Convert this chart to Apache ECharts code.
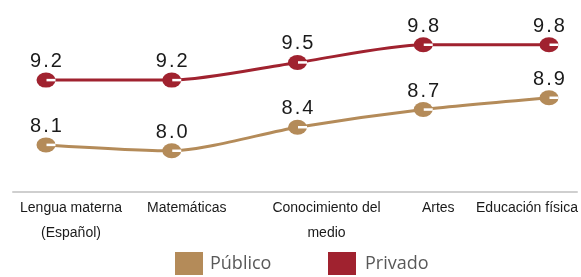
<!DOCTYPE html>
<html><head><meta charset="utf-8">
<script src="https://cdn.jsdelivr.net/npm/echarts@6/dist/echarts.min.js"></script>
<style>html,body{margin:0;padding:0;background:#fff}#c{width:581px;height:277px}</style>
</head><body><div id="c"></div>
<script>
var categories = ['Lengua materna\n(Español)', 'Matemáticas', 'Conocimiento del\nmedio', 'Artes', 'Educación física'];
var publico = [8.1, 8.0, 8.4, 8.7, 8.9];
var privado = [9.2, 9.2, 9.5, 9.8, 9.8];
var seriesNames = ['Público', 'Privado'];
var colors = ['#b48b59', '#a0222f'];
var labelShift = [[0,0,0,50],[0,0,0,30],[0,0,0,58],[0,0,0,30],[0,44,0,0]];

var rich = {};
labelShift.forEach(function(p, i){ rich['s'+i] = {padding:p, fontSize:14, lineHeight:25, color:'#1a1a1a', fontFamily:'Liberation Sans'}; });

function lineSeries(name, data, color){
  return {
    name: name, type:'line', data:data, smooth:0.25, xAxisIndex:0, yAxisIndex:0,
    symbol:'circle', symbolSize:[19,15],
    lineStyle:{color:color, width:3}, itemStyle:{color:color},
    label:{show:true, position:'top', distance:1,
      formatter:function(p){ var s = p.value.toFixed(1).split('.'); return '{d|'+s[0]+'}{p|.}{d|'+s[1]+'}'; },
      rich:{d:{fontSize:20, color:'#1a1a1a', fontFamily:'Liberation Sans'}, p:{fontSize:20, color:'#1a1a1a', fontFamily:'Liberation Sans', padding:[0,2,0,2]}}
    },
    z:3
  };
}
function notchSeries(data){
  return {
    type:'line', data:data, smooth:0.25, xAxisIndex:0, yAxisIndex:0,
    symbol:'rect', symbolSize:[9,2.5], symbolOffset:[5,0],
    lineStyle:{width:0, opacity:0}, itemStyle:{color:'#ffffff'},
    label:{show:false}, silent:true, z:4, tooltip:{show:false}
  };
}

var chart = echarts.init(document.getElementById('c'));
chart.setOption({
  animation:false,
  grid:[{left:46, right:32, top:33, bottom:85, containLabel:false, outerBoundsMode:'none'},
        {left:13, right:4, top:33, bottom:85, containLabel:false, outerBoundsMode:'none'}],
  xAxis:[
    {type:'category', gridIndex:0, data:categories, boundaryGap:false,
     axisLine:{show:false}, axisTick:{show:false},
     axisLabel:{interval:0, margin:4, formatter:function(v, i){ return v.split('\n').map(function(l){ return '{s'+i+'|'+l+'}'; }).join('\n'); }, rich:rich}},
    {type:'category', gridIndex:1, data:categories, axisLine:{show:true, lineStyle:{color:'#cfcfcf', width:2}},
     axisTick:{show:false}, axisLabel:{show:false}}
  ],
  yAxis:[
    {type:'value', gridIndex:0, min:7.3, max:10, show:false, splitLine:{show:false}},
    {type:'value', gridIndex:1, min:7.3, max:10, show:false, splitLine:{show:false}}
  ],
  legend:[
    {data:[seriesNames[0]], left:175, top:252, padding:0, itemWidth:28, itemHeight:23, icon:'rect',
     textStyle:{fontSize:18, color:'#595959', fontFamily:'Open Sans', padding:[0,0,0,2]}},
    {data:[seriesNames[1]], left:328, top:252, padding:0, itemWidth:28, itemHeight:23, icon:'rect',
     textStyle:{fontSize:18, color:'#595959', fontFamily:'Open Sans', padding:[0,0,0,4]}}
  ],
  series:[
    lineSeries(seriesNames[0], publico, colors[0]),
    lineSeries(seriesNames[1], privado, colors[1]),
    notchSeries(publico),
    notchSeries(privado)
  ]
});
</script></body></html>
